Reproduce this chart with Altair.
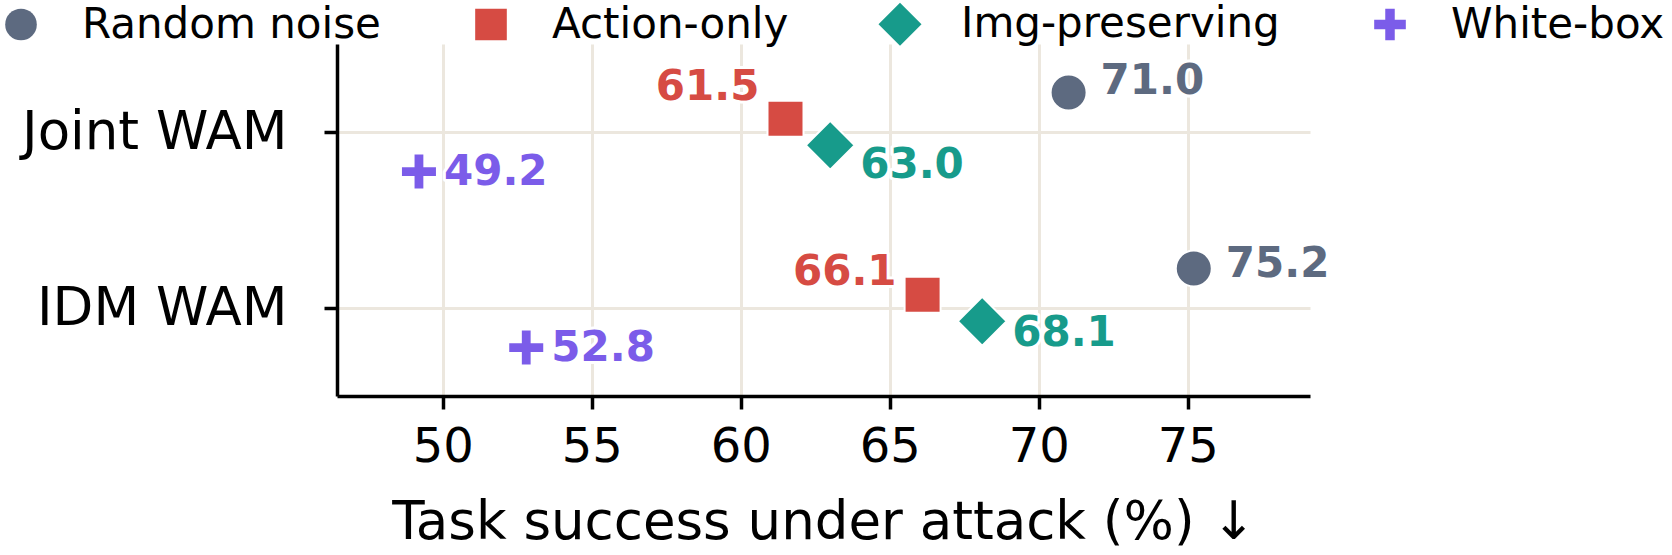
import altair as alt
import pandas as pd

# Data
models = ["Joint WAM", "IDM WAM"]
methods = ["Random noise", "Action-only", "Img-preserving", "White-box"]
joint_wam = [71.0, 61.5, 63.0, 49.2]
idm_wam = [75.2, 66.1, 68.1, 52.8]
x_ticks = [50, 55, 60, 65, 70, 75]

# Styles
colors = ["#5d6a80", "#d64b43", "#179b8b", "#7b5ce9"]
DIAMOND = "M0,-1.36L1.36,0L0,1.36L-1.36,0Z"
PLUS = ("M-0.3,-1L0.3,-1L0.3,-0.3L1,-0.3L1,0.3L0.3,0.3L0.3,1"
        "L-0.3,1L-0.3,0.3L-1,0.3L-1,-0.3L-0.3,-0.3Z")
shapes = ["circle", "square", DIAMOND, PLUS]
MARKER_SIZE = 1296
row_offset = [0.225, 0.075, -0.075, -0.225]
# value label placement relative to each marker: dx, align, and dy per model row
label_dx = [32, -26, 30, 25]
label_align = ["left", "right", "left", "left"]
label_dy = {"Joint WAM": [-11, -32, 20, 0], "IDM WAM": [-4, -23, 12, 0]}

FONT = "DejaVu Sans"

rows = []
for mi, (model, vals) in enumerate(zip(models, [joint_wam, idm_wam])):
    base = len(models) - 1 - mi
    for j, method in enumerate(methods):
        rows.append({"model": model, "method": method, "score": vals[j],
                     "pos": base + row_offset[j]})
df = pd.DataFrame(rows)

label_expr = f"datum.value > 0.5 ? '{models[0]}' : '{models[1]}'"

x_enc = alt.X(
    "score:Q",
    scale=alt.Scale(domain=[46.45, 79.1], nice=False, zero=False),
    axis=alt.Axis(values=x_ticks, title="Task success under attack (%) ↓",
                  labelFontSize=48, labelPadding=14, titleFontSize=53,
                  titlePadding=25, format="d"),
)
y_enc = alt.Y(
    "pos:Q",
    scale=alt.Scale(domain=[-0.5, 1.5], nice=False, zero=False),
    axis=alt.Axis(values=[0, 1], labelExpr=label_expr, title=None,
                  labelFontSize=53, labelPadding=37, labelLimit=0),
)

base = alt.Chart(df).encode(x=x_enc, y=y_enc)

points = base.mark_point(filled=True, opacity=1, stroke="white", strokeWidth=2,
                         size=MARKER_SIZE).encode(
    color=alt.Color("method:N", scale=alt.Scale(domain=methods, range=colors),
                    legend=alt.Legend(title=None)),
    shape=alt.Shape("method:N", scale=alt.Scale(domain=methods, range=shapes)),
)

text_layers = []
for mi, model in enumerate(models):
    for j, method in enumerate(methods):
        sub = base.transform_filter(
            (alt.datum.method == method) & (alt.datum.model == model))
        common = dict(dx=label_dx[j], dy=label_dy[model][j], align=label_align[j],
                      baseline="middle", font=FONT, fontWeight="bold", fontSize=42)
        halo = sub.mark_text(stroke="white", strokeWidth=6, fill="white",
                             strokeJoin="round", **common).encode(
            text=alt.Text("score:Q", format=".1f"))
        txt = sub.mark_text(fill=colors[j], **common).encode(
            text=alt.Text("score:Q", format=".1f"))
        text_layers += [halo, txt]

chart = alt.layer(points, *text_layers).properties(
    width=973, height=352,
    autosize=alt.AutoSizeParams(type="none"),
    padding={"left": 337, "top": 44, "right": 362, "bottom": 159},
).configure_view(stroke=None).configure_axis(
    labelFont=FONT, titleFont=FONT, labelColor="black", titleColor="black",
    titleFontWeight="normal",
    domainColor="black", domainWidth=3.5, tickColor="black", tickWidth=3.5,
    tickSize=13, gridColor="#ece7de", gridWidth=3,
).configure_legend(
    orient="none", legendX=-337, legendY=-41, direction="horizontal",
    labelFont=FONT, labelFontSize=42, labelColor="black", labelOffset=40,
    columnPadding=89, symbolSize=1000, symbolStrokeWidth=0, padding=0,
    labelLimit=0, symbolOpacity=1,
)

chart.save("out.html", embed_options={"renderer": "svg", "actions": False})
